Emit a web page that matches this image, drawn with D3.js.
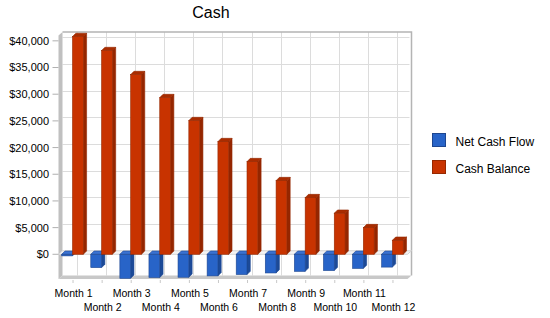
<!DOCTYPE html>
<html>
<head>
<meta charset="utf-8">
<script src="https://cdn.jsdelivr.net/npm/d3@7"></script>
<style>
  body { margin: 0; background: #fff; }
  svg { display: block; font-family: "Liberation Sans", Arial, sans-serif; }
</style>
</head>
<body>
<svg width="550" height="318"></svg>
<script>
const months = ['Month 1', 'Month 2', 'Month 3', 'Month 4', 'Month 5', 'Month 6',
    'Month 7', 'Month 8', 'Month 9', 'Month 10', 'Month 11', 'Month 12'];
const netCashFlow = [-300, -2500, -4500, -4350, -4300, -4050, -3800, -3500, -3200, -3050, -2650, -2400];
const cashBalance = [40800, 38170, 33670, 29360, 25050, 21110, 17360, 13800, 10610, 7690, 4990, 2620];
const seriesNames = ['Net Cash Flow', 'Cash Balance'];
const yTicks = [0, 5000, 10000, 15000, 20000, 25000, 30000, 35000, 40000];

const colors = {
    'Net Cash Flow': { front: '#2864c8', side: '#1c4a98', top: '#3b72d2', line: '#1d4690' },
    'Cash Balance': { front: '#c83300', side: '#952600', top: '#a92c00', line: '#962800' },
};

const svg = d3.select('svg');

// front plane of the 3d box, depth offset to the back wall
const plotLeft = 58.5, plotRight = 407.5, plotTop = 35.5, plotBottom = 279;
const dx = 4, dy = -3.5;
const bd = 3.3; // bar depth

const x = d3.scaleBand().domain(months).range([plotLeft, plotRight]);
const xs = d3.scaleBand().domain(seriesNames).range([3.2, 3.2 + 21.6]);
const y = d3.scaleLinear().domain([-4630, 41000]).range([plotBottom, plotTop]);

const rows = months.map((m, i) => ({
    month: m,
    values: [
        { name: 'Net Cash Flow', value: netCashFlow[i] },
        { name: 'Cash Balance', value: cashBalance[i] },
    ],
}));

const pts = p => p.map(d => d.join(',')).join(' ');

// back wall
svg.append('rect')
    .attr('x', plotLeft + dx).attr('y', plotTop + dy)
    .attr('width', plotRight - plotLeft).attr('height', plotBottom - plotTop)
    .attr('fill', '#fff');

const grid = svg.append('g').attr('stroke', '#dcdcdc').attr('stroke-width', 1);
grid.selectAll('.h')
    .data(yTicks)
    .enter()
    .append('line')
    .attr('x1', plotLeft + dx).attr('x2', plotRight + dx - 2)
    .attr('y1', d => Math.round(y(d) + dy) + 0.5)
    .attr('y2', d => Math.round(y(d) + dy) + 0.5);
grid.selectAll('.v')
    .data(months)
    .enter()
    .append('line')
    .attr('x1', d => Math.round(x(d) + x.bandwidth() / 2 + dx) + 0.5)
    .attr('x2', d => Math.round(x(d) + x.bandwidth() / 2 + dx) + 0.5)
    .attr('y1', plotTop + dy)
    .attr('y2', plotBottom + dy);

// border of the back wall
svg.append('path')
    .attr('d', `M${plotLeft + dx},${plotTop + dy} L${plotRight + dx},${plotTop + dy} L${plotRight + dx},${plotBottom + dy}`)
    .attr('fill', 'none')
    .attr('stroke', '#b4b4b4')
    .attr('stroke-width', 1.5);

// left wall
svg.append('polygon')
    .attr('points', pts([[plotLeft, plotTop], [plotLeft + dx, plotTop + dy], [plotLeft + dx, plotBottom + dy], [plotLeft, plotBottom]]))
    .attr('fill', '#c0c0c0');

// floor
svg.append('polygon')
    .attr('points', pts([[plotLeft, plotBottom], [plotLeft + dx, plotBottom + dy], [plotRight + dx, plotBottom + dy], [plotRight, plotBottom]]))
    .attr('fill', '#c8c8c8');

// zero plane
const y0 = y(0);
svg.append('polygon')
    .attr('points', pts([[plotLeft, y0], [plotLeft + dx, y0 + dy], [plotRight + dx, y0 + dy], [plotRight, y0]]))
    .attr('fill', '#f4f4f4')
    .attr('stroke', '#d4d4d4')
    .attr('stroke-width', 1);

// bars
const bars = svg.append('g').attr('class', 'bars');
rows.forEach(r => {
    r.values.forEach(v => {
        const c = colors[v.name];
        const bx = x(r.month) + xs(v.name);
        const bw = xs.bandwidth();
        const yt = Math.min(y(v.value), y0);
        const yb = Math.max(y(v.value), y0);
        const g = bars.append('g');
        g.append('polygon')
            .attr('points', pts([[bx + bw, yt], [bx + bw + bd, yt - bd], [bx + bw + bd, yb - bd], [bx + bw, yb]]))
            .attr('fill', c.side)
            .attr('stroke', c.line)
            .attr('stroke-width', 0.6);
        g.append('polygon')
            .attr('points', pts([[bx, yt], [bx + bd, yt - bd], [bx + bw + bd, yt - bd], [bx + bw, yt]]))
            .attr('fill', c.top)
            .attr('stroke', c.line)
            .attr('stroke-width', 0.6);
        g.append('rect')
            .attr('x', bx).attr('y', yt)
            .attr('width', bw).attr('height', Math.max(yb - yt, 0.5))
            .attr('fill', c.front)
            .attr('stroke', c.line)
            .attr('stroke-width', 0.6);
    });
});

// y axis ticks and labels
const yAxis = svg.append('g');
yAxis.selectAll('line')
    .data(yTicks)
    .enter()
    .append('line')
    .attr('x1', plotLeft - 6).attr('x2', plotLeft)
    .attr('y1', d => y(d)).attr('y2', d => y(d))
    .attr('stroke', '#b0b0b0');
yAxis.selectAll('text')
    .data(yTicks)
    .enter()
    .append('text')
    .attr('x', 49)
    .attr('y', d => y(d))
    .attr('dy', '0.36em')
    .attr('text-anchor', 'end')
    .attr('font-size', 11)
    .text(d => '$' + d3.format(',')(d));

// x axis ticks and labels
const xAxis = svg.append('g');
xAxis.selectAll('line')
    .data(months)
    .enter()
    .append('line')
    .attr('x1', d => x(d) + x.bandwidth() / 2)
    .attr('x2', d => x(d) + x.bandwidth() / 2)
    .attr('y1', plotBottom + 1).attr('y2', plotBottom + 4)
    .attr('stroke', '#c8c8c8');
xAxis.selectAll('text')
    .data(months)
    .enter()
    .append('text')
    .attr('x', d => x(d) + x.bandwidth() / 2 + 0.5)
    .attr('y', (d, i) => (i % 2 === 0 ? 297.3 : 310.7))
    .attr('text-anchor', 'middle')
    .attr('font-size', 10.5)
    .text(d => d);

// title
svg.append('text')
    .attr('x', 211).attr('y', 17.5)
    .attr('text-anchor', 'middle')
    .attr('font-size', 16)
    .text('Cash');

// legend
const legend = svg.append('g').attr('transform', 'translate(432.5,133.5)');
seriesNames.forEach((s, i) => {
    const row = legend.append('g').attr('transform', `translate(0,${i * 27})`);
    row.append('rect')
        .attr('width', 13).attr('height', 13)
        .attr('fill', colors[s].front)
        .attr('stroke', colors[s].line);
    row.append('text')
        .attr('x', 23).attr('y', 12.8)
        .attr('font-size', 12)
        .text(s);
});
</script>
</body>
</html>
